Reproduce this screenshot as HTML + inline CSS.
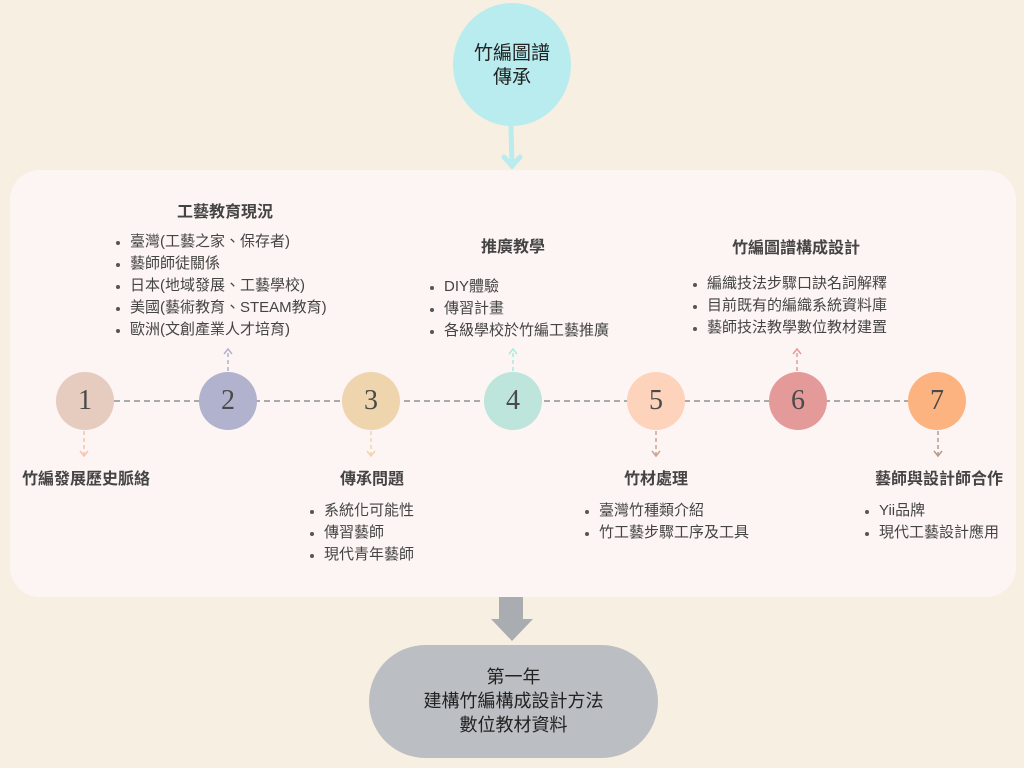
<!DOCTYPE html>
<html><head><meta charset="utf-8"><style>
*{margin:0;padding:0;box-sizing:border-box}
body{width:1024px;height:768px;background:#f7efe1;position:relative;overflow:hidden;font-family:"Liberation Sans","Noto Sans CJK TC",sans-serif;color:#444}
.panel{position:absolute;left:10px;top:170px;width:1006px;height:427px;background:#fdf5f3;border-radius:30px}
.t{position:absolute;white-space:nowrap;font-size:15px;line-height:22px}
.h{font-weight:bold;transform:translateX(-50%);font-size:16px}
.li{padding-left:14px;position:relative}
.li:before{content:"";position:absolute;left:0;top:10px;width:4px;height:4px;border-radius:50%;background:#555}
.c{position:absolute;width:58px;height:58px;border-radius:50%;top:372px;text-align:center;line-height:58px;font-family:"Liberation Serif","DejaVu Serif",serif;font-size:28px;color:#4a4a4a}
</style></head><body>
<div class="panel"></div>
<div style="position:absolute;left:453px;top:3px;width:118px;height:123px;border-radius:50%;background:#b8ecee;text-align:center;padding-top:39px;font-size:19px;line-height:24px;color:#222">竹編圖譜<br>傳承</div>
<svg width="1024" height="768" style="position:absolute;left:0;top:0">
<path d="M511 126 L512 166 M504 157 L512 166 L520 157" stroke="#b8ecee" stroke-width="5" fill="none" stroke-linecap="round"/>
<line x1="114" y1="401" x2="910" y2="401" stroke="#aaa" stroke-width="2" stroke-dasharray="6,4"/>
<g stroke-width="1.5" stroke-dasharray="4,3" fill="none">
<path d="M84 431V455" stroke="#f8c4ae"/><path d="M228 371V350" stroke="#b1b2ce"/><path d="M371 431V455" stroke="#efd5ae"/>
<path d="M513 371V350" stroke="#a8ecdf"/><path d="M656 431V455" stroke="#c9a391"/><path d="M797 371V350" stroke="#e59a9a"/><path d="M938 431V455" stroke="#b49b8c"/>
</g>
<g stroke-width="1.5" fill="none">
<path d="M80 451l4 5 4-5" stroke="#f8c4ae"/><path d="M224 354l4-5 4 5" stroke="#b1b2ce"/><path d="M367 451l4 5 4-5" stroke="#efd5ae"/>
<path d="M509 354l4-5 4 5" stroke="#a8ecdf"/><path d="M652 451l4 5 4-5" stroke="#c9a391"/><path d="M793 354l4-5 4 5" stroke="#e59a9a"/><path d="M934 451l4 5 4-5" stroke="#b49b8c"/>
</g>
<path d="M499 597H523V619H533L512 641L491 619H499Z" fill="#a9adb1"/>
</svg>
<div class="c" style="left:56px;background:#e6cbbf">1</div>
<div class="c" style="left:199px;background:#b1b2ce">2</div>
<div class="c" style="left:342px;background:#efd5ae">3</div>
<div class="c" style="left:484px;background:#bde5dc">4</div>
<div class="c" style="left:627px;background:#fdd3bc">5</div>
<div class="c" style="left:769px;background:#e59a9a">6</div>
<div class="c" style="left:908px;background:#fcb37f">7</div>

<div class="t h" style="left:225px;top:202px">工藝教育現況</div>
<div class="t" style="left:116px;top:231px"><div class="li">臺灣(工藝之家、保存者)</div><div class="li">藝師師徒關係</div><div class="li">日本(地域發展、工藝學校)</div><div class="li">美國(藝術教育、STEAM教育)</div><div class="li">歐洲(文創產業人才培育)</div></div>

<div class="t h" style="left:513px;top:237px">推廣教學</div>
<div class="t" style="left:430px;top:276px"><div class="li">DIY體驗</div><div class="li">傳習計畫</div><div class="li">各級學校於竹編工藝推廣</div></div>

<div class="t h" style="left:796px;top:238px">竹編圖譜構成設計</div>
<div class="t" style="left:693px;top:273px"><div class="li">編織技法步驟口訣名詞解釋</div><div class="li">目前既有的編織系統資料庫</div><div class="li">藝師技法教學數位教材建置</div></div>

<div class="t h" style="left:86px;top:469px">竹編發展歷史脈絡</div>

<div class="t h" style="left:372px;top:469px">傳承問題</div>
<div class="t" style="left:310px;top:500px"><div class="li">系統化可能性</div><div class="li">傳習藝師</div><div class="li">現代青年藝師</div></div>

<div class="t h" style="left:656px;top:469px">竹材處理</div>
<div class="t" style="left:585px;top:500px"><div class="li">臺灣竹種類介紹</div><div class="li">竹工藝步驟工序及工具</div></div>

<div class="t h" style="left:939px;top:469px">藝師與設計師合作</div>
<div class="t" style="left:865px;top:500px"><div class="li">Yii品牌</div><div class="li">現代工藝設計應用</div></div>

<div style="position:absolute;left:369px;top:645px;width:289px;height:113px;border-radius:57px;background:#bbbfc3;text-align:center;padding-top:20px;font-size:18px;line-height:24px;color:#222">第一年<br>建構竹編構成設計方法<br>數位教材資料</div>
</body></html>
